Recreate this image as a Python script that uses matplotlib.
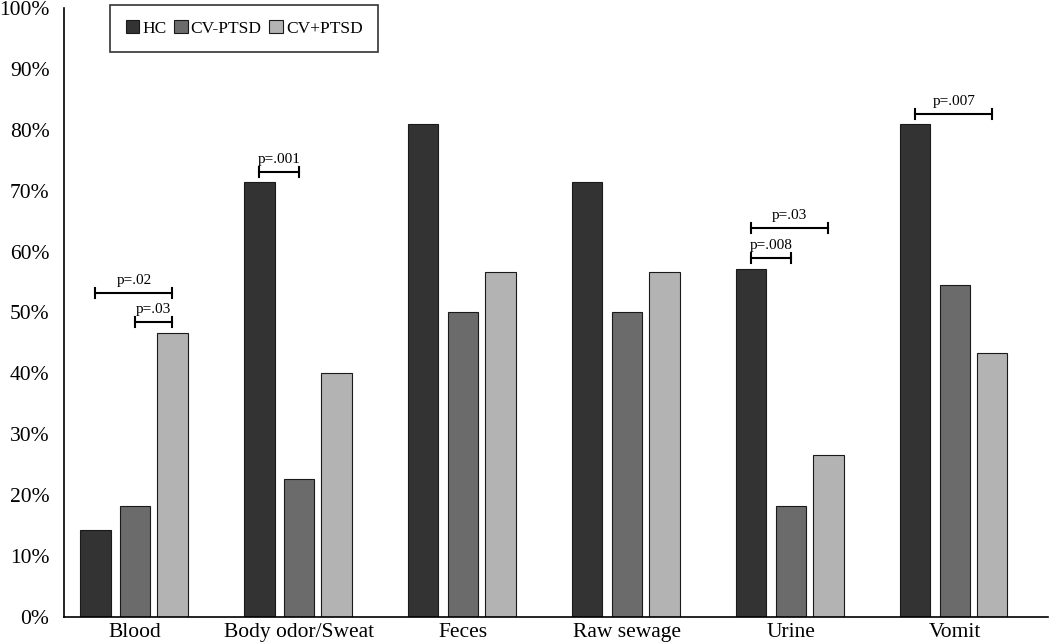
import matplotlib
matplotlib.use("Agg")
import matplotlib.pyplot as plt
import numpy as np

categories = ["Blood", "Body odor/Sweat", "Feces", "Raw sewage", "Urine", "Vomit"]
series_names = ["HC", "CV-PTSD", "CV+PTSD"]
hc = [14.3, 71.4, 81.0, 71.4, 57.1, 81.0]
cv_no_ptsd = [18.2, 22.7, 50.0, 50.0, 18.2, 54.5]
cv_ptsd = [46.7, 40.0, 56.7, 56.7, 26.7, 43.3]
colors = ["#333333", "#6b6b6b", "#b3b3b3"]

# significance brackets: (category index, series i, series j, height %, label)
brackets = [
    (0, 0, 2, 53.2, "p=.02"),
    (0, 1, 2, 48.4, "p=.03"),
    (1, 0, 1, 73.1, "p=.001"),
    (4, 0, 1, 58.9, "p=.008"),
    (4, 0, 2, 63.9, "p=.03"),
    (5, 0, 2, 82.6, "p=.007"),
]

plt.rcParams['font.family'] = ['Liberation Serif', 'DejaVu Serif']

fig = plt.figure(figsize=(10.5, 6.43), dpi=100)
ax = fig.add_axes([0.061, 0.040, 0.937, 0.948])

x = np.arange(len(categories))
width = 0.185
offsets = [-0.242, 0.0, 0.228]
for vals, off, c, name in zip([hc, cv_no_ptsd, cv_ptsd], offsets, colors, series_names):
    ax.bar(x + off, vals, width, color=c, edgecolor="#1a1a1a", linewidth=0.8, label=name)

for ci, i, j, h, lab in brackets:
    x1 = ci + offsets[i]
    x2 = ci + offsets[j]
    ax.plot([x1, x2], [h, h], color="black", lw=1.5)
    ax.plot([x1, x1], [h - 0.8, h + 0.8], color="black", lw=1.5)
    ax.plot([x2, x2], [h - 0.8, h + 0.8], color="black", lw=1.5)
    ax.text((x1 + x2) / 2, h + 1.0, lab, ha="center", va="bottom", fontsize=11)

ax.set_xlim(-0.433, 5.567)
ax.set_ylim(0, 100)
ax.set_yticks(np.arange(0, 101, 10))
ax.set_yticklabels([f"{v}%" for v in range(0, 101, 10)], fontsize=15.5)
ax.tick_params(axis="y", length=0, pad=10.5)
ax.set_xticks(x)
ax.set_xticklabels(categories, fontsize=15.5)
ax.tick_params(axis="x", length=0, pad=4)
for s in ["top", "right"]:
    ax.spines[s].set_visible(False)
for s in ["left", "bottom"]:
    ax.spines[s].set_linewidth(1.2)
    ax.spines[s].set_color("black")

leg = ax.legend(loc="upper left", bbox_to_anchor=(0.047, 1.005), ncol=3, fontsize=12.5,
                frameon=True, fancybox=False, edgecolor="black", handlelength=0.8,
                handleheight=0.8, handletextpad=0.15, columnspacing=0.45, borderpad=0.88,
                borderaxespad=0)
leg.get_frame().set_linewidth(1.2)

fig.savefig("out.png", dpi=100)
